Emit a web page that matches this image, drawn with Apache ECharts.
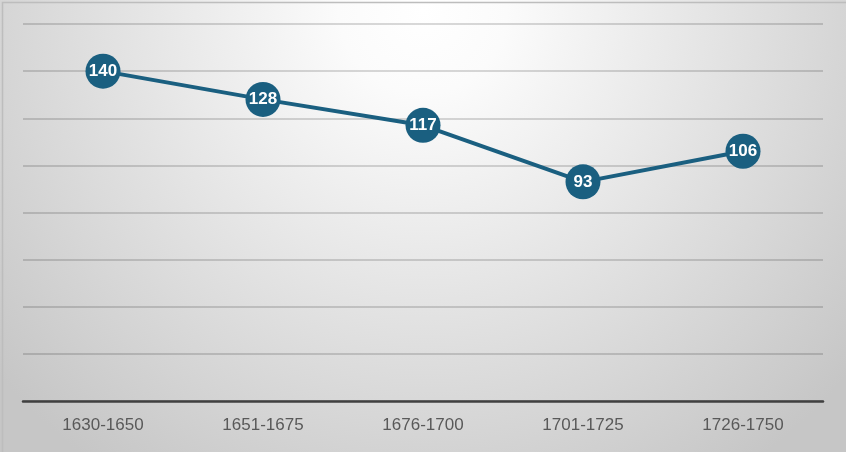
<!DOCTYPE html>
<html><head><meta charset="utf-8">
<script src="https://cdn.jsdelivr.net/npm/echarts@6/dist/echarts.min.js"></script>
<style>html,body{margin:0;padding:0;background:#fff}#c{width:846px;height:452px}</style>
</head><body><div id="c"></div>
<script>
const categories = ['1630-1650','1651-1675','1676-1700','1701-1725','1726-1750'];
const values = [140, 128, 117, 93, 106];
const yMin = 0, yMax = 160, yInterval = 20;

const chart = echarts.init(document.getElementById('c'), null, {renderer:'canvas'});
chart.setOption({
  animation: false,
  backgroundColor: {
    type: 'radial', x: 423, y: 10, r: 560, global: true,
    colorStops: [{offset:0, color:'#ffffff'},{offset:0.15, color:'#fbfbfb'},{offset:1, color:'#c6c6c6'}]
  },
  graphic: [{
    type: 'rect', left: 0, top: 0, silent: true,
    shape: {x: 0.75, y: 0.75, width: 844.5, height: 450.5},
    style: {fill: 'none', stroke: '#bdbdbd', lineWidth: 1.5}
  }],
  grid: {left: 23, right: 23, top: 24, bottom: 51},
  xAxis: {
    type: 'category', data: categories, boundaryGap: true,
    axisLine: {lineStyle: {color: '#404040', width: 2.5}},
    axisTick: {show: false},
    axisLabel: {color: '#595959', fontSize: 17, fontFamily: 'Liberation Sans, Arial, sans-serif', margin: 16}
  },
  yAxis: {
    type: 'value', min: yMin, max: yMax, interval: yInterval,
    axisLabel: {show: false}, axisLine: {show: false}, axisTick: {show: false},
    splitLine: {lineStyle: {color: 'rgba(0,0,0,0.2)', width: 1.5}}
  },
  series: [{
    type: 'line', data: values,
    symbol: 'circle', symbolSize: 35,
    lineStyle: {color: '#1a5f80', width: 4},
    itemStyle: {color: '#1a5f80'},
    label: {show: true, position: 'inside', color: '#ffffff', fontWeight: 'bold', fontSize: 17,
      fontFamily: 'Liberation Sans, Arial, sans-serif'}
  }]
});
</script></body></html>
